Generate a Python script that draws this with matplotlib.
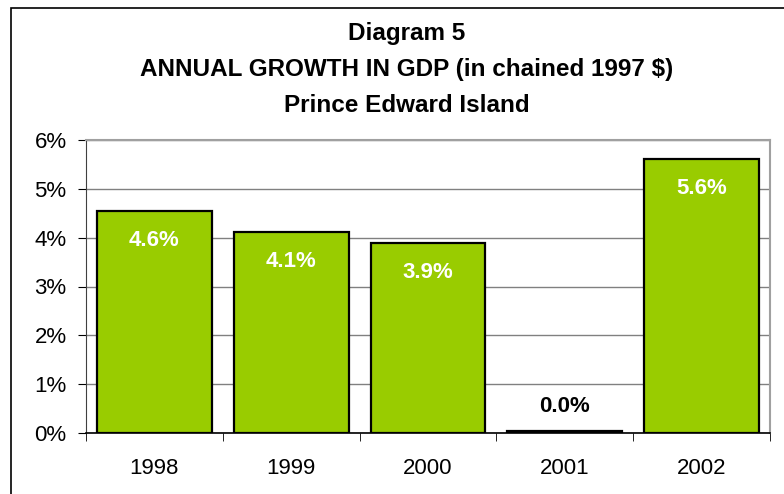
import matplotlib
matplotlib.use("Agg")
import matplotlib.pyplot as plt
from matplotlib.patches import Rectangle
import numpy as np

years = ["1998", "1999", "2000", "2001", "2002"]
growth = [4.55, 4.12, 3.89, 0.05, 5.61]
labels = ["4.6%", "4.1%", "3.9%", "0.0%", "5.6%"]
yticks = [0, 1, 2, 3, 4, 5, 6]
ytick_labels = ["0%", "1%", "2%", "3%", "4%", "5%", "6%"]
titles = ["Diagram 5", "ANNUAL GROWTH IN GDP (in chained 1997 $)", "Prince Edward Island"]

plt.rcParams['font.family'] = ['Liberation Sans', 'DejaVu Sans']
W, H = 784, 494
fig = plt.figure(figsize=(W / 100, H / 100), dpi=100)

# outer chart frame (extends beyond the image on right/bottom)
fig.patches.append(Rectangle((11 / W, -0.1), 1.2, 1 - 8 / H + 0.1, transform=fig.transFigure,
                             fill=False, edgecolor='black', linewidth=1.2))

left, right, top, bottom = 86, 770, 140, 433
ax = fig.add_axes([left / W, 1 - bottom / H, (right - left) / W, (bottom - top) / H])

x = np.arange(len(years))
ax.bar(x, growth, width=0.84, color='#99CC00', edgecolor='black', linewidth=1.6, zorder=3)
ax.set_xlim(-0.5, len(years) - 0.5)
ax.set_ylim(0, 6)
ax.set_yticks(yticks)
ax.set_yticklabels(ytick_labels, fontsize=16)
ax.set_xticks(x)
ax.set_xticklabels(years, fontsize=16)
ax.tick_params(axis='x', length=0, pad=18)
ax.set_xticks(np.arange(-0.5, len(years)), minor=True)
ax.tick_params(axis='x', which='minor', length=6, direction='out', color='black')
ax.tick_params(axis='y', length=6, direction='out', pad=8)
ax.yaxis.grid(True, color='#808080', linewidth=1, zorder=0)
ax.set_axisbelow(True)
for s in ['top', 'right']:
    ax.spines[s].set_color('#a0a0a0')
    ax.spines[s].set_linewidth(1.5)
ax.spines['left'].set_color('#404040')
ax.spines['bottom'].set_color('black')
ax.spines['bottom'].set_linewidth(1.2)

for xi, v, lab in zip(x, growth, labels):
    if v > 0.5:
        ax.annotate(lab, (xi, v), xytext=(0, -35), textcoords='offset pixels',
                    ha='center', va='baseline', color='white', fontsize=16, fontweight='bold', zorder=4)
    else:
        ax.annotate(lab, (xi, 0), xytext=(0, 21), textcoords='offset pixels',
                    ha='center', va='baseline', color='black', fontsize=16, fontweight='bold', zorder=4)

for t, yp in zip(titles, [40, 76, 112]):
    fig.text(407 / W, 1 - yp / H, t, ha='center', va='baseline',
             fontsize=17.5, fontweight='bold')

fig.savefig("out.png", dpi=100)
